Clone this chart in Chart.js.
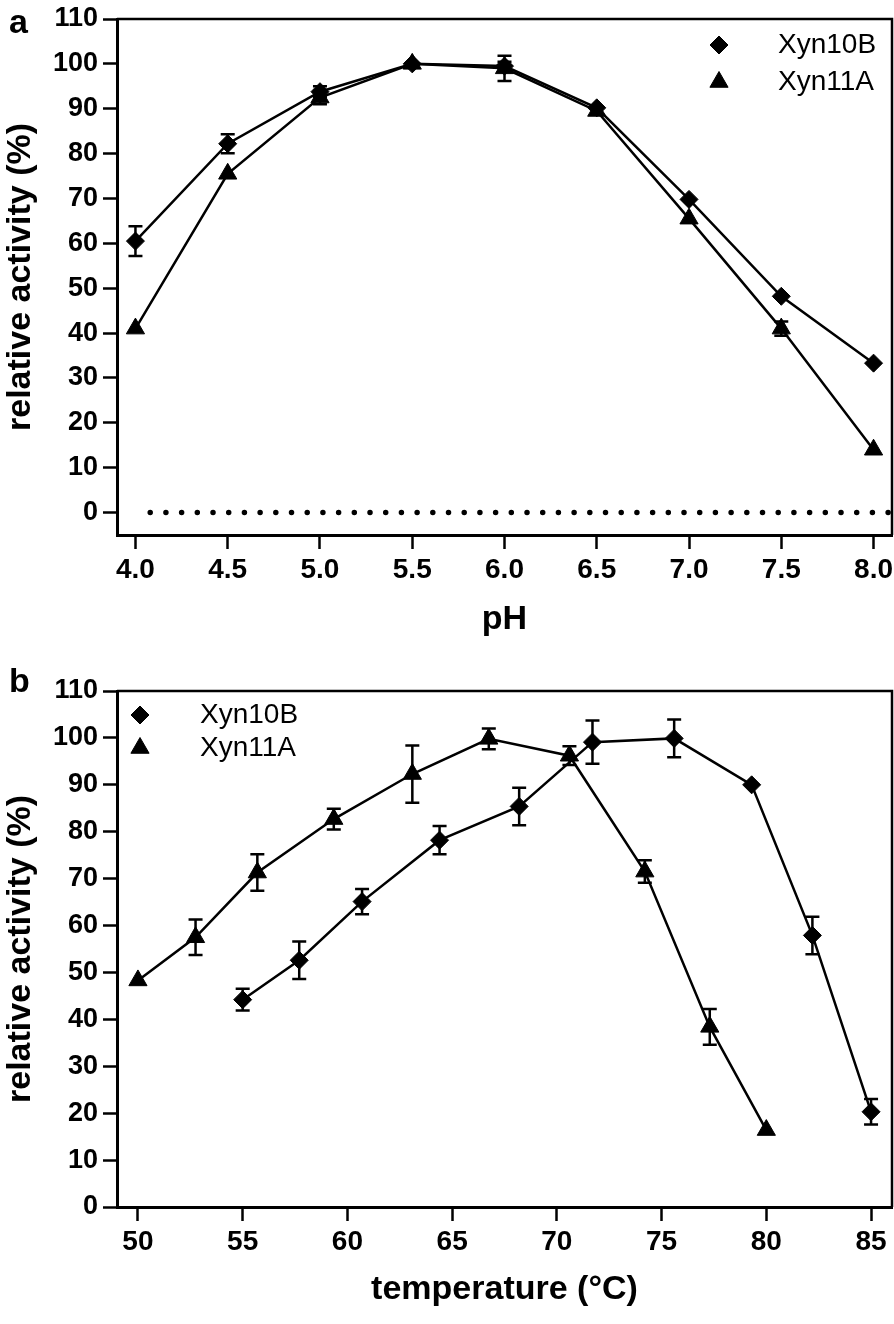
<!DOCTYPE html>
<html lang="en">
<head>
  <meta charset="UTF-8" />
  <title>Xyn10B / Xyn11A activity</title>
  <script src="https://cdn.jsdelivr.net/npm/chart.js"></script>
  <style>
    body { margin: 0; background: #fff; }
    .panel { position: absolute; left: 0; }
  </style>
</head>
<body>
  <div class="panel" style="top:0"><canvas id="phChart" width="894" height="650"></canvas></div>
  <div class="panel" style="top:650px"><canvas id="tempChart" width="894" height="674"></canvas></div>

  <script>
    // panel a: pH profile
    const phValues = [4.0, 4.5, 5.0, 5.5, 6.0, 6.5, 7.0, 7.5, 8.0];
    const phXyn10B = [60.5, 82.2, 93.8, 100, 99.5, 90.2, 69.8, 48.2, 33.3];
    const phXyn10BErr = [3.3, 2.1, 1.2, 0, 1.0, 0, 0, 0, 0];
    const phXyn11A = [41.0, 75.5, 92.5, 100, 99.0, 89.5, 65.5, 41.0, 14.0];
    const phXyn11AErr = [0, 0, 1.5, 0, 2.8, 0, 0, 1.6, 0];
    const phTicks = [4.0, 4.5, 5.0, 5.5, 6.0, 6.5, 7.0, 7.5, 8.0];
    const zeroLineX = [4.08, 8.1];

    // panel b: temperature profile
    const tempXyn10B = [55.0, 57.7, 60.7, 64.4, 68.2, 71.7, 75.6, 79.3, 82.2, 85.0];
    const actXyn10B = [44.2, 52.6, 65.1, 78.2, 85.4, 99.1, 99.9, 90.0, 57.9, 20.3];
    const errXyn10B = [2.3, 4.0, 2.7, 3.0, 4.0, 4.6, 4.0, 0, 4.0, 2.7];
    const tempXyn11A = [50.0, 52.75, 55.7, 59.35, 63.1, 66.75, 70.6, 74.2, 77.3, 80.0];
    const actXyn11A = [48.3, 57.5, 71.3, 82.7, 92.3, 99.8, 96.2, 71.5, 38.4, 16.4];
    const errXyn11A = [0, 3.8, 3.9, 2.2, 6.1, 2.2, 2.0, 2.4, 3.8, 0];
    const tempTicks = [50, 55, 60, 65, 70, 75, 80, 85];

    const activityTicks = [0, 10, 20, 30, 40, 50, 60, 70, 80, 90, 100, 110];

    const FONT = "'Liberation Sans', Arial, sans-serif";

    const toPoints = (xs, ys) => xs.map((x, i) => ({ x: x, y: ys[i] }));

    function series(label, xs, ys, errs, style) {
      return {
        label: label,
        data: toPoints(xs, ys),
        errors: errs,
        showLine: true,
        borderColor: '#000',
        backgroundColor: '#000',
        borderWidth: 2.5,
        pointStyle: style,
        pointRadius: style === 'triangle' ? 10.5 : 9,
        pointBorderWidth: 1,
        inLegend: true
      };
    }

    // box round the plot area (top and right sides)
    const frame = {
      id: 'frame',
      afterDraw(chart) {
        const { ctx, chartArea: a } = chart;
        ctx.save();
        ctx.strokeStyle = '#000';
        ctx.lineWidth = 2.5;
        ctx.beginPath();
        ctx.moveTo(a.left, a.top);
        ctx.lineTo(a.right, a.top);
        ctx.lineTo(a.right, a.bottom);
        ctx.stroke();
        ctx.restore();
      }
    };

    // error bars from dataset.errors
    const errorBars = {
      id: 'errorBars',
      afterDatasetsDraw(chart) {
        const { ctx } = chart;
        const xs = chart.scales.x, ys = chart.scales.y;
        ctx.save();
        ctx.strokeStyle = '#000';
        ctx.lineWidth = 2.5;
        chart.data.datasets.forEach(ds => {
          if (!ds.errors) return;
          ds.data.forEach((p, i) => {
            const e = ds.errors[i];
            if (!e) return;
            const px = xs.getPixelForValue(p.x);
            const top = ys.getPixelForValue(p.y + e);
            const bot = ys.getPixelForValue(p.y - e);
            ctx.beginPath();
            ctx.moveTo(px, top); ctx.lineTo(px, bot);
            ctx.moveTo(px - 7, top); ctx.lineTo(px + 7, top);
            ctx.moveTo(px - 7, bot); ctx.lineTo(px + 7, bot);
            ctx.stroke();
          });
        });
        ctx.restore();
      }
    };

    // legend inside the plot + panel letter
    const insetLegend = {
      id: 'insetLegend',
      afterDraw(chart, args, opts) {
        const { ctx, chartArea: a } = chart;
        ctx.save();
        let row = 0;
        chart.data.datasets.forEach(ds => {
          if (!ds.inLegend) return;
          const y = a.top + opts.rows[row++];
          const mx = opts.fromRight ? a.right - opts.markerX : a.left + opts.markerX;
          const tx = opts.fromRight ? a.right - opts.textX : a.left + opts.textX;
          ctx.fillStyle = '#000';
          ctx.strokeStyle = '#000';
          Chart.helpers.drawPoint(ctx, {
            pointStyle: ds.pointStyle, radius: ds.pointRadius, rotation: 0, borderWidth: 1
          }, mx, y);
          ctx.font = '28px ' + FONT;
          ctx.textBaseline = 'middle';
          ctx.textAlign = 'left';
          ctx.fillText(ds.label, tx, y);
        });
        ctx.font = 'bold 34px ' + FONT;
        ctx.textBaseline = 'alphabetic';
        ctx.fillText(opts.letter, 9, opts.letterY);
        ctx.restore();
      }
    };

    function buildChart(id, o) {
      return new Chart(document.getElementById(id), {
        type: 'scatter',
        data: { datasets: o.datasets },
        options: {
          responsive: false,
          animation: false,
          layout: { autoPadding: false, padding: { top: o.top, right: 2, left: 0, bottom: 0 } },
          plugins: {
            legend: { display: false },
            tooltip: { enabled: false },
            insetLegend: o.legend
          },
          scales: {
            x: {
              type: 'linear',
              min: o.xMin, max: o.xMax,
              afterFit: s => { s.height = o.xHeight; s.paddingLeft = 0; s.paddingRight = 0; },
              afterBuildTicks: s => { s.ticks = o.xTicks.map(v => ({ value: v })); },
              grid: { drawOnChartArea: false, tickLength: 14, tickWidth: 2.5, tickColor: '#000' },
              border: { color: '#000', width: 3 },
              ticks: {
                color: '#000', padding: 4, maxRotation: 0, autoSkip: false,
                font: { family: FONT, size: 28, weight: 'bold' },
                callback: o.xFormat
              },
              title: {
                display: true, text: o.xTitle, color: '#000',
                font: { family: FONT, size: 34, weight: 'bold' },
                padding: { top: 0, bottom: o.xTitlePad }
              }
            },
            y: {
              type: 'linear',
              min: o.yMin, max: 110,
              afterFit: s => { s.width = 117; s.paddingTop = 0; s.paddingBottom = 0; },
              afterBuildTicks: s => { s.ticks = activityTicks.map(v => ({ value: v })); },
              grid: { drawOnChartArea: false, tickLength: 14, tickWidth: 2.5, tickColor: '#000' },
              border: { color: '#000', width: 3 },
              ticks: {
                color: '#000', padding: 5, autoSkip: false,
                font: { family: FONT, size: 27, weight: 'bold' }
              },
              title: {
                display: true, text: 'relative activity (%)', color: '#000',
                font: { family: FONT, size: 34, weight: 'bold' },
                padding: { top: 0, bottom: 0 }
              }
            }
          }
        },
        plugins: [frame, errorBars, insetLegend]
      });
    }

    buildChart('phChart', {
      top: 19,
      xMin: 3.9, xMax: 8.1, yMin: -5,
      xHeight: 650 - 535,
      xTicks: phTicks,
      xFormat: v => Number(v).toFixed(1),
      xTitle: 'pH', xTitlePad: 10,
      legend: { fromRight: true, markerX: 173, textX: 114, rows: [26, 63], letter: 'a', letterY: 33 },
      datasets: [
        series('Xyn10B', phValues, phXyn10B, phXyn10BErr, 'rectRot'),
        series('Xyn11A', phValues, phXyn11A, phXyn11AErr, 'triangle'),
        {
          label: 'zero',
          data: toPoints(zeroLineX, [0, 0]),
          showLine: true,
          borderColor: '#000',
          borderWidth: 5.5,
          borderDash: [0, 15.7],
          borderCapStyle: 'round',
          pointRadius: 0
        }
      ]
    });

    buildChart('tempChart', {
      top: 41,
      xMin: 49, xMax: 86, yMin: 0,
      xHeight: 674 - 557,
      xTicks: tempTicks,
      xFormat: v => String(v),
      xTitle: 'temperature (°C)', xTitlePad: 14,
      legend: { fromRight: false, markerX: 23, textX: 83, rows: [24, 57], letter: 'b', letterY: 42 },
      datasets: [
        series('Xyn10B', tempXyn10B, actXyn10B, errXyn10B, 'rectRot'),
        series('Xyn11A', tempXyn11A, actXyn11A, errXyn11A, 'triangle')
      ]
    });
  </script>
</body>
</html>
